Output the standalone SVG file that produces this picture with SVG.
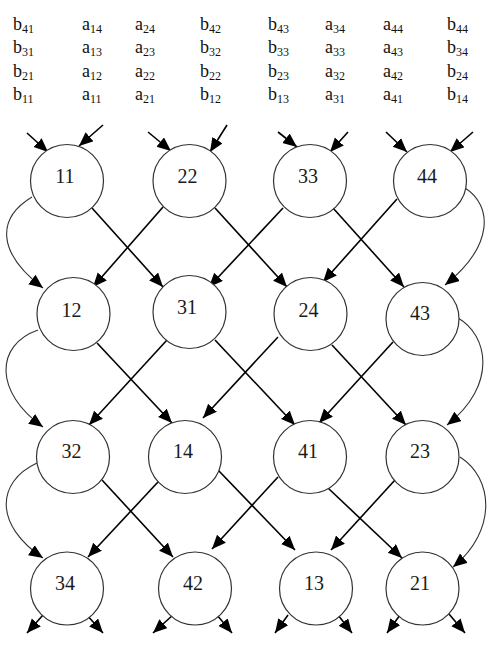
<svg xmlns="http://www.w3.org/2000/svg" width="500" height="661" viewBox="0 0 500 661">
<style>
.hdr{font-family:"Liberation Serif","Times New Roman",serif;font-size:18px;fill:#111}
.sub{font-size:12px}
.node circle{fill:#fff;stroke:#333;stroke-width:1.2}
.node text{font-family:"Liberation Serif","Times New Roman",serif;font-size:20px;fill:#1a1a1a;text-anchor:middle}
.edge{stroke:#000;stroke-width:1.6;fill:none}
.curve{stroke:#333;stroke-width:1.1;fill:none}
</style>
<defs>
<marker id="ah" markerUnits="userSpaceOnUse" markerWidth="15" markerHeight="13" refX="14" refY="6" orient="auto">
<path d="M0,0 L14,6 L0,12 z" fill="#000"/>
</marker>
</defs>
<rect width="500" height="661" fill="#fff"/>
<g id="header" class="hdr">
<text x="13" y="30">b<tspan class="sub" dy="3">41</tspan></text>
<text x="82" y="30">a<tspan class="sub" dy="3">14</tspan></text>
<text x="135" y="30">a<tspan class="sub" dy="3">24</tspan></text>
<text x="200" y="30">b<tspan class="sub" dy="3">42</tspan></text>
<text x="268" y="30">b<tspan class="sub" dy="3">43</tspan></text>
<text x="325" y="30">a<tspan class="sub" dy="3">34</tspan></text>
<text x="383" y="30">a<tspan class="sub" dy="3">44</tspan></text>
<text x="447" y="30">b<tspan class="sub" dy="3">44</tspan></text>
<text x="13" y="53">b<tspan class="sub" dy="3">31</tspan></text>
<text x="82" y="53">a<tspan class="sub" dy="3">13</tspan></text>
<text x="135" y="53">a<tspan class="sub" dy="3">23</tspan></text>
<text x="200" y="53">b<tspan class="sub" dy="3">32</tspan></text>
<text x="268" y="53">b<tspan class="sub" dy="3">33</tspan></text>
<text x="325" y="53">a<tspan class="sub" dy="3">33</tspan></text>
<text x="383" y="53">a<tspan class="sub" dy="3">43</tspan></text>
<text x="447" y="53">b<tspan class="sub" dy="3">34</tspan></text>
<text x="13" y="77">b<tspan class="sub" dy="3">21</tspan></text>
<text x="82" y="77">a<tspan class="sub" dy="3">12</tspan></text>
<text x="135" y="77">a<tspan class="sub" dy="3">22</tspan></text>
<text x="200" y="77">b<tspan class="sub" dy="3">22</tspan></text>
<text x="268" y="77">b<tspan class="sub" dy="3">23</tspan></text>
<text x="325" y="77">a<tspan class="sub" dy="3">32</tspan></text>
<text x="383" y="77">a<tspan class="sub" dy="3">42</tspan></text>
<text x="447" y="77">b<tspan class="sub" dy="3">24</tspan></text>
<text x="13" y="100">b<tspan class="sub" dy="3">11</tspan></text>
<text x="82" y="100">a<tspan class="sub" dy="3">11</tspan></text>
<text x="135" y="100">a<tspan class="sub" dy="3">21</tspan></text>
<text x="200" y="100">b<tspan class="sub" dy="3">12</tspan></text>
<text x="268" y="100">b<tspan class="sub" dy="3">13</tspan></text>
<text x="325" y="100">a<tspan class="sub" dy="3">31</tspan></text>
<text x="383" y="100">a<tspan class="sub" dy="3">41</tspan></text>
<text x="447" y="100">b<tspan class="sub" dy="3">14</tspan></text>
</g>
<g id="connectors">
<line class="edge" x1="27" y1="133" x2="48" y2="152" marker-end="url(#ah)"/>
<line class="edge" x1="103" y1="125" x2="79" y2="146" marker-end="url(#ah)"/>
<line class="edge" x1="148" y1="132" x2="171" y2="151" marker-end="url(#ah)"/>
<line class="edge" x1="227" y1="125" x2="210" y2="152" marker-end="url(#ah)"/>
<line class="edge" x1="278" y1="132" x2="297" y2="147" marker-end="url(#ah)"/>
<line class="edge" x1="348" y1="132" x2="330" y2="152" marker-end="url(#ah)"/>
<line class="edge" x1="386" y1="132" x2="407" y2="152" marker-end="url(#ah)"/>
<line class="edge" x1="473" y1="132" x2="450" y2="152" marker-end="url(#ah)"/>
<path class="curve" d="M32,197 C-3,218 -4,252 43,288" marker-end="url(#ah)"/>
<line class="edge" x1="92" y1="208" x2="163" y2="287" marker-end="url(#ah)"/>
<line class="edge" x1="163" y1="207" x2="93" y2="287" marker-end="url(#ah)"/>
<line class="edge" x1="215" y1="208" x2="287" y2="287" marker-end="url(#ah)"/>
<line class="edge" x1="283" y1="208" x2="209" y2="287" marker-end="url(#ah)"/>
<line class="edge" x1="333" y1="208" x2="404" y2="287" marker-end="url(#ah)"/>
<line class="edge" x1="397" y1="199" x2="323" y2="282" marker-end="url(#ah)"/>
<path class="curve" d="M465,188 C492,205 495,245 445,285" marker-end="url(#ah)"/>
<path class="curve" d="M38,330 C-5,345 -6,392 43,427" marker-end="url(#ah)"/>
<line class="edge" x1="97" y1="343" x2="172" y2="423" marker-end="url(#ah)"/>
<line class="edge" x1="167" y1="340" x2="89" y2="425" marker-end="url(#ah)"/>
<line class="edge" x1="215" y1="340" x2="295" y2="425" marker-end="url(#ah)"/>
<line class="edge" x1="278" y1="337" x2="203" y2="418" marker-end="url(#ah)"/>
<line class="edge" x1="332" y1="345" x2="406" y2="425" marker-end="url(#ah)"/>
<line class="edge" x1="393" y1="342" x2="319" y2="423" marker-end="url(#ah)"/>
<path class="curve" d="M458,318 C488,335 498,385 447,425" marker-end="url(#ah)"/>
<path class="curve" d="M37,463 C-4,482 -6,525 43,558" marker-end="url(#ah)"/>
<line class="edge" x1="102" y1="480" x2="173" y2="557" marker-end="url(#ah)"/>
<line class="edge" x1="158" y1="482" x2="88" y2="557" marker-end="url(#ah)"/>
<line class="edge" x1="218" y1="470" x2="295" y2="550" marker-end="url(#ah)"/>
<line class="edge" x1="278" y1="477" x2="212" y2="549" marker-end="url(#ah)"/>
<line class="edge" x1="328" y1="488" x2="402" y2="558" marker-end="url(#ah)"/>
<line class="edge" x1="395" y1="480" x2="331" y2="550" marker-end="url(#ah)"/>
<path class="curve" d="M460,457 C493,478 498,530 453,567" marker-end="url(#ah)"/>
<line class="edge" x1="43" y1="615" x2="27" y2="633" marker-end="url(#ah)"/>
<line class="edge" x1="86" y1="614" x2="103" y2="633" marker-end="url(#ah)"/>
<line class="edge" x1="173" y1="615" x2="153" y2="633" marker-end="url(#ah)"/>
<line class="edge" x1="217" y1="615" x2="232" y2="633" marker-end="url(#ah)"/>
<line class="edge" x1="288" y1="615" x2="275" y2="633" marker-end="url(#ah)"/>
<line class="edge" x1="338" y1="615" x2="352" y2="633" marker-end="url(#ah)"/>
<line class="edge" x1="400" y1="615" x2="387" y2="633" marker-end="url(#ah)"/>
<line class="edge" x1="449" y1="614" x2="465" y2="633" marker-end="url(#ah)"/>
</g>
<g id="n11" class="node"><circle cx="67" cy="181" r="36.5"/><text x="65" y="183">11</text></g>
<g id="n22" class="node"><circle cx="189.5" cy="181" r="36.5"/><text x="187.5" y="183">22</text></g>
<g id="n33" class="node"><circle cx="310" cy="181" r="36.5"/><text x="308" y="183">33</text></g>
<g id="n44" class="node"><circle cx="430" cy="181" r="36.5"/><text x="427" y="183">44</text></g>
<g id="n12" class="node"><circle cx="73.5" cy="314" r="36.5"/><text x="71.5" y="317">12</text></g>
<g id="n31" class="node"><circle cx="189.5" cy="312" r="36.5"/><text x="187" y="314">31</text></g>
<g id="n24" class="node"><circle cx="310.5" cy="314" r="36.5"/><text x="308.5" y="317">24</text></g>
<g id="n43" class="node"><circle cx="422.5" cy="319" r="36.5"/><text x="420" y="320">43</text></g>
<g id="n32" class="node"><circle cx="73" cy="457" r="36.5"/><text x="71.5" y="458">32</text></g>
<g id="n14" class="node"><circle cx="185" cy="457" r="36.5"/><text x="183" y="458">14</text></g>
<g id="n41" class="node"><circle cx="310" cy="457" r="36.5"/><text x="308" y="458">41</text></g>
<g id="n23" class="node"><circle cx="422.5" cy="457" r="36.5"/><text x="420" y="458">23</text></g>
<g id="n34" class="node"><circle cx="67" cy="588.5" r="36.5"/><text x="65" y="590">34</text></g>
<g id="n42" class="node"><circle cx="195" cy="588.5" r="36.5"/><text x="193" y="590">42</text></g>
<g id="n13" class="node"><circle cx="316" cy="588.5" r="36.5"/><text x="314" y="590">13</text></g>
<g id="n21" class="node"><circle cx="422.5" cy="588.5" r="36.5"/><text x="420" y="590">21</text></g>
</svg>
